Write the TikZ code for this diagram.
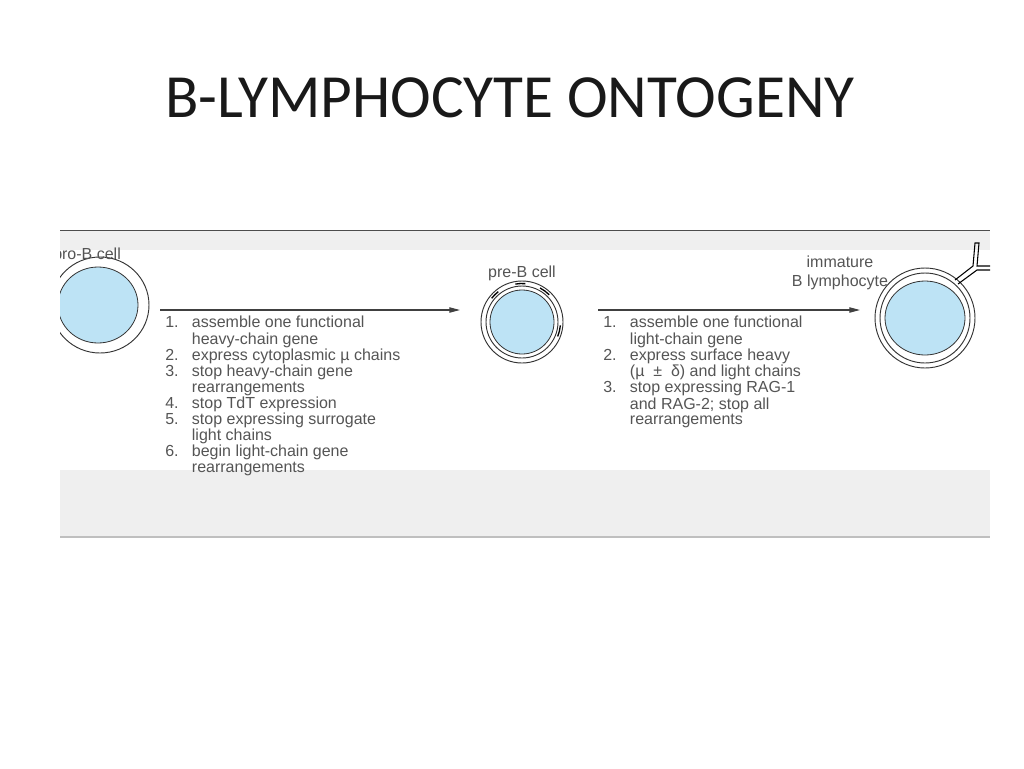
\documentclass[tikz,border=0pt]{standalone}
\usepackage{fontspec}
\setmainfont{Carlito}
\newfontfamily\lsans{Liberation Sans}
\usetikzlibrary{arrows.meta}
\definecolor{cellblue}{HTML}{BDE3F5}
\definecolor{txtgray}{HTML}{555555}
\definecolor{band}{HTML}{EFEFEF}
\tikzset{
  lbl/.style={font=\lsans\fontsize{12}{11.6}\selectfont, text=txtgray, inner sep=0pt},
  lst/.style={lbl, anchor=north west, align=left},
  arr/.style={draw=black!75, line width=0.8pt, -{Triangle[length=8pt,width=4pt]}},
  outer/.style={draw=black!80, line width=0.7pt, fill=white},
  inner/.style={draw=black!80, line width=0.6pt, fill=cellblue},
  dsh/.style={line width=1pt}
}
\begin{document}
\begin{tikzpicture}[x=0.75pt,y=-0.75pt]
\useasboundingbox (0,0) rectangle (1024,768);
\node[font=\fontsize{46}{52}\selectfont, text=black!90] (title) at (510,98) {B-LYMPHOCYTE ONTOGENY};
\begin{scope}
\clip (60,228) rectangle (990,540);
\fill[band] (60,231) rectangle (990,536);
\fill[white] (60,250) rectangle (990,470);
\draw[black!70, line width=1pt] (60,230.5) -- (990,230.5);
\draw[black!25, line width=1pt] (60,537) -- (990,537);
% pro-B
\draw[outer] (100,305) ellipse (49 and 48);
\draw[inner] (98,305) ellipse (40 and 38);
\node[lbl, anchor=west] (prob) at (53,255) {pro-B cell};
% pre-B
\draw[outer] (522,322) circle (41);
\draw[outer] (522,322) circle (36);
\draw[inner] (522,322) circle (32);
\draw[dsh] ([shift={(-128:38.5)}]522,322) arc[start angle=-128,end angle=-142,radius=38.5];
\draw[dsh] ([shift={(-85:38.5)}]522,322) arc[start angle=-85,end angle=-100,radius=38.5];
\draw[dsh] ([shift={(-45:38.5)}]522,322) arc[start angle=-45,end angle=-62,radius=38.5];
\draw[dsh] ([shift={(5:38.5)}]522,322) arc[start angle=5,end angle=22,radius=38.5];
\node[lbl] (preb) at (522,273) {pre-B cell};
% immature
\draw[outer] (925,318) circle (50);
\draw[outer] (925,318) circle (45);
\draw[inner] (925,318) ellipse (40 and 37);
\draw[line width=0.8pt] (955,280) -- (973,266) -- (975,243) -- (979,243) -- (977,266) -- (995,266);
\draw[line width=0.8pt] (958,284) -- (977,270) -- (995,270);
\node[lbl, align=center] (imm) at (840,273) {immature\\[3pt]B lymphocyte};
% arrows
\coordinate (a1s) at (160,310); \coordinate (a1e) at (460,310);
\coordinate (a2s) at (598,310); \coordinate (a2e) at (860,310);
\draw[arr] (a1s) -- (a1e);
\draw[arr] (a2s) -- (a2e);
\node[lst] (list1) at (165,316) {%
\begin{tabular}{@{}l@{\hspace{10pt}}l@{}}
1. & assemble one functional\\
   & heavy-chain gene\\
2. & express cytoplasmic µ chains\\
3. & stop heavy-chain gene\\
   & rearrangements\\
4. & stop TdT expression\\
5. & stop expressing surrogate\\
   & light chains\\
6. & begin light-chain gene\\
   & rearrangements
\end{tabular}};
\node[lst] (list2) at (603,316) {%
\begin{tabular}{@{}l@{\hspace{10pt}}l@{}}
1. & assemble one functional\\
   & light-chain gene\\
2. & express surface heavy\\
   & (µ \ ± \ δ) and light chains\\
3. & stop expressing RAG-1\\
   & and RAG-2; stop all\\
   & rearrangements
\end{tabular}};
\end{scope}
\end{tikzpicture}
\end{document}
